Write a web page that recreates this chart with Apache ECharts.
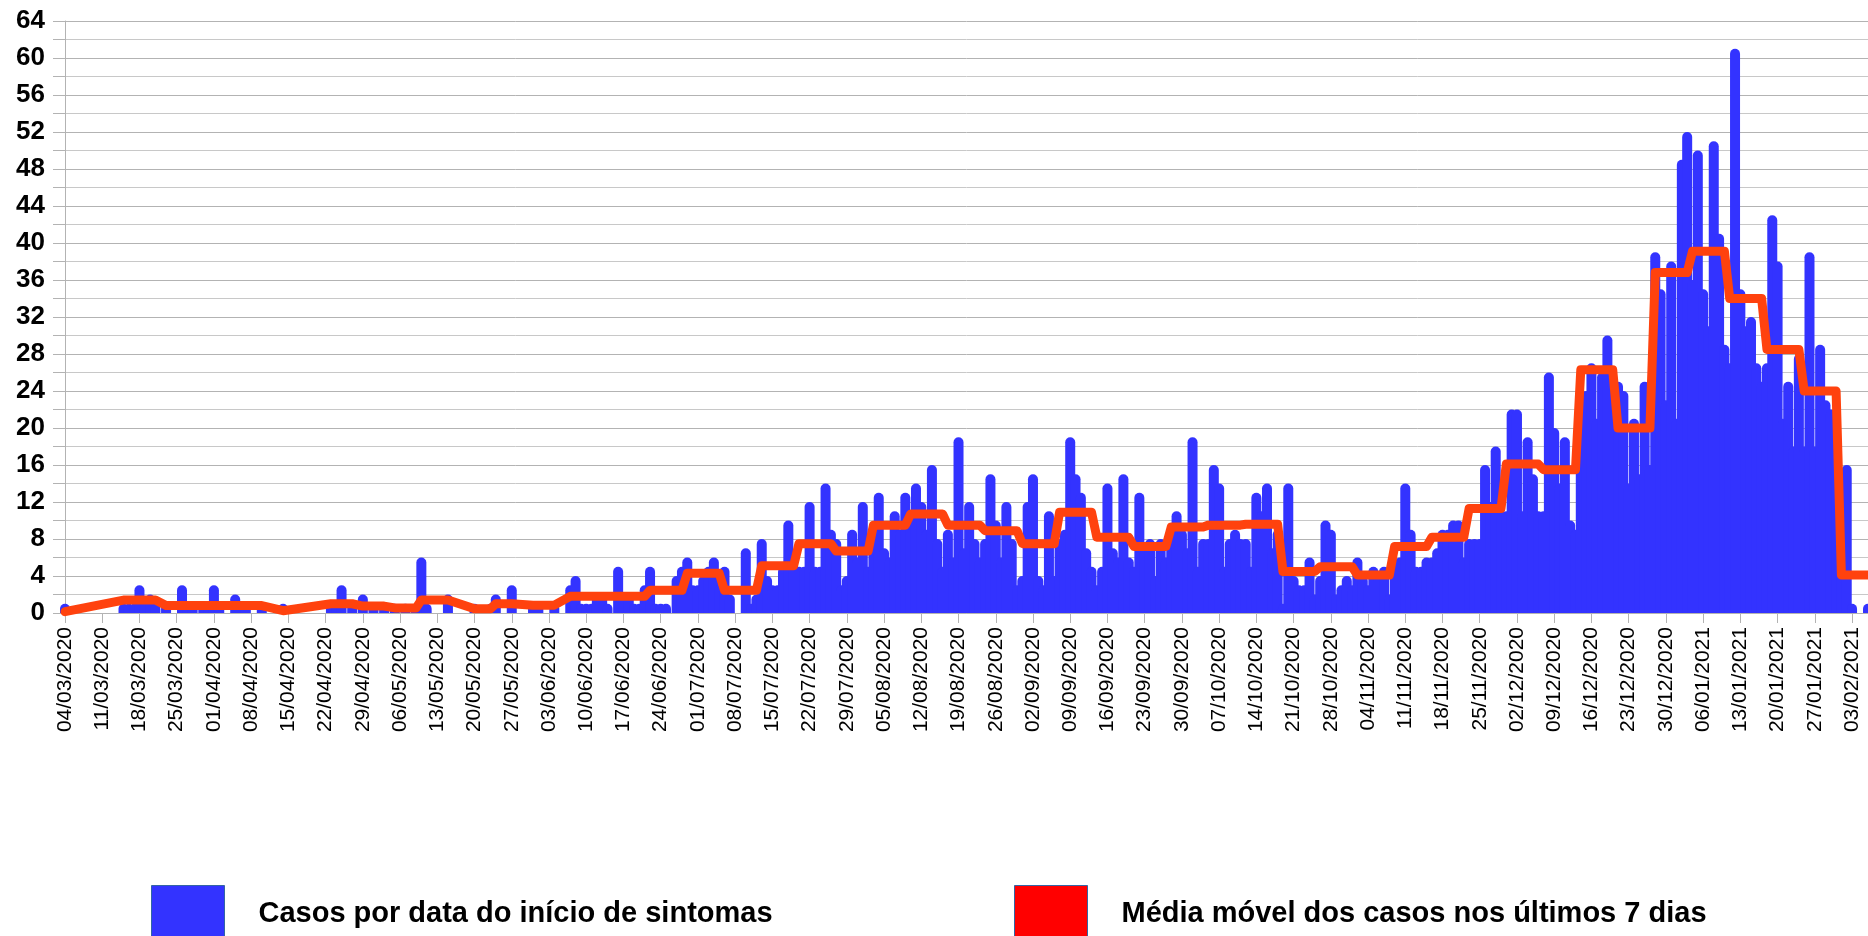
<!DOCTYPE html>
<html>
<head>
<meta charset="utf-8">
<script src="https://cdn.jsdelivr.net/npm/echarts@6/dist/echarts.min.js"></script>
<style>
html,body{margin:0;padding:0;background:#ffffff;}
#chart{width:1868px;height:936px;}
</style>
</head>
<body>
<div id="chart"></div>
<script>
// ---- data (one value per day, starting 04/03/2020) ----
const START_DATE = [2020, 2, 4];   // 04/03/2020 (month is 0-based)
const NUM_DAYS = 340;
const seriesNames = ['Casos por data do início de sintomas', 'Média móvel dos casos nos últimos 7 dias'];

const casos = [
  1,null,null,null,null,null,null,
  null,null,null,null,1,1,1,
  3,1,2,1,null,1,null,
  null,3,1,1,null,1,1,
  3,1,null,null,2,1,1,
  null,null,1,null,null,null,1,
  null,null,null,null,null,null,null,
  null,1,1,3,null,1,null,
  2,null,1,null,1,null,1,
  null,1,null,1,6,1,null,
  null,null,2,null,null,null,null,
  1,null,null,1,2,null,null,
  3,null,null,null,1,1,null,
  null,1,null,null,3,4,1,
  1,1,2,2,1,0,5,
  2,2,1,1,3,5,1,
  1,1,0,4,5,6,3,
  3,4,5,6,3,5,2,
  0,0,7,1,2,8,4,
  3,3,5,10,5,5,5,
  12,5,5,14,9,8,3,
  4,9,6,12,5,8,13,
  7,6,11,9,13,11,14,
  12,9,16,8,5,9,6,
  19,7,12,8,6,8,15,
  10,6,12,8,3,4,12,
  15,4,3,11,4,8,9,
  19,15,13,7,5,3,5,
  14,7,6,15,6,5,13,
  7,8,4,8,6,8,11,
  9,7,19,5,8,8,16,
  14,5,8,9,8,8,5,
  13,11,14,7,9,1,14,
  4,3,3,6,2,4,10,
  9,2,3,4,3,6,4,
  3,5,4,5,2,5,6,
  14,9,5,5,6,6,7,
  9,9,10,10,6,8,8,
  8,16,12,18,11,11,22,
  22,11,19,15,11,11,26,
  20,14,19,10,9,21,24,
  27,21,26,30,25,25,24,
  14,21,15,25,16,39,35,
  23,38,21,49,52,36,50,
  35,31,51,41,29,27,61,
  35,31,32,27,25,27,43,
  38,21,25,18,28,18,39,
  18,29,23,22,19,10,16,
  1,0,0,1
];

const mediaMovel = [
  0.14,null,null,null,null,null,null,
  null,null,null,null,1.4,1.4,1.4,
  1.4,1.4,1.4,1.4,null,0.8,null,
  null,0.8,0.8,0.8,null,0.8,0.8,
  0.8,0.8,null,null,0.8,0.8,0.8,
  null,null,0.8,null,null,null,0.25,
  null,null,null,null,null,null,null,
  null,1.0,1.0,1.0,null,1.0,null,
  0.75,null,0.75,null,0.75,null,0.55,
  null,0.55,null,0.55,1.4,1.4,null,
  null,null,1.4,null,null,null,null,
  0.45,null,null,0.45,1.0,null,null,
  1.0,null,null,null,0.85,0.85,null,
  null,0.85,null,null,1.8,1.8,1.8,
  1.8,1.8,1.8,1.8,1.8,1.8,1.8,
  1.8,1.8,1.8,1.8,1.8,2.45,2.45,
  2.45,2.45,2.45,2.45,2.45,4.3,4.3,
  4.3,4.3,4.3,4.3,4.3,2.45,2.45,
  2.45,2.45,2.45,2.45,2.45,5.1,5.1,
  5.1,5.1,5.1,5.1,5.1,7.5,7.5,
  7.5,7.5,7.5,7.5,7.5,6.7,6.7,
  6.7,6.7,6.7,6.7,6.7,9.5,9.5,
  9.5,9.5,9.5,9.5,9.5,10.7,10.7,
  10.7,10.7,10.7,10.7,10.7,9.5,9.5,
  9.5,9.5,9.5,9.5,9.5,8.9,8.9,
  8.9,8.9,8.9,8.9,8.9,7.5,7.5,
  7.5,7.5,7.5,7.5,7.5,10.9,10.9,
  10.9,10.9,10.9,10.9,10.9,8.2,8.2,
  8.2,8.2,8.2,8.2,8.2,7.2,7.2,
  7.2,7.2,7.2,7.2,7.2,9.3,9.3,
  9.3,9.3,9.3,9.3,9.3,9.5,9.5,
  9.5,9.5,9.5,9.5,9.5,9.6,9.6,
  9.6,9.6,9.6,9.6,9.6,4.5,4.5,
  4.5,4.5,4.5,4.5,4.5,5.0,5.0,
  5.0,5.0,5.0,5.0,5.0,4.1,4.1,
  4.1,4.1,4.1,4.1,4.1,7.2,7.2,
  7.2,7.2,7.2,7.2,7.2,8.2,8.2,
  8.2,8.2,8.2,8.2,8.2,11.3,11.3,
  11.3,11.3,11.3,11.3,11.3,16.1,16.1,
  16.1,16.1,16.1,16.1,16.1,15.5,15.5,
  15.5,15.5,15.5,15.5,15.5,26.3,26.3,
  26.3,26.3,26.3,26.3,26.3,20,20,
  20,20,20,20,20,36.8,36.8,
  36.8,36.8,36.8,36.8,36.8,39.1,39.1,
  39.1,39.1,39.1,39.1,39.1,34,34,
  34,34,34,34,34,28.5,28.5,
  28.5,28.5,28.5,28.5,28.5,24,24,
  24,24,24,24,24,4.1,4.1,
  4.1,4.1,4.1,4.1
];

const Y_MIN = 0, Y_MAX = 64, Y_STEP = 4;
const LABEL_EVERY = 7; // one date label per week

// ---- category labels (dates) ----
const datas = [];
for (let i = 0; i < NUM_DAYS; i++) {
  const d = new Date(Date.UTC(START_DATE[0], START_DATE[1], START_DATE[2] + i));
  const dd = String(d.getUTCDate()).padStart(2, '0');
  const mm = String(d.getUTCMonth() + 1).padStart(2, '0');
  datas.push(dd + '/' + mm + '/' + d.getUTCFullYear());
}

const FONT = "'Liberation Sans', Arial, sans-serif";
const GRID = '#b3b3b3';

const chart = echarts.init(document.getElementById('chart'), null, {renderer: 'canvas'});
chart.setOption({
  animation: false,
  backgroundColor: '#ffffff',
  grid: {left: 65, right: 0, top: 21, bottom: 323, containLabel: false},
  legend: [
    {
      data: [{name: seriesNames[0], itemStyle: {color: '#3333ff', borderColor: '#3465a4', borderWidth: 1}}],
      left: 146, top: 880, itemWidth: 73, itemHeight: 56, icon: 'rect',
      selectedMode: false,
      textStyle: {fontFamily: FONT, fontSize: 29, fontWeight: 'bold', color: '#000', padding: [0, 0, 0, 29]}
    },
    {
      data: [{name: seriesNames[1], itemStyle: {color: '#ff0000', borderColor: '#3465a4', borderWidth: 1}}],
      left: 1009, top: 880, itemWidth: 73, itemHeight: 56, icon: 'rect',
      selectedMode: false,
      textStyle: {fontFamily: FONT, fontSize: 29, fontWeight: 'bold', color: '#000', padding: [0, 0, 0, 29]}
    }
  ],
  xAxis: {
    type: 'category',
    data: datas,
    boundaryGap: false,
    axisLine: {show: true, lineStyle: {color: GRID, width: 1}},
    axisTick: {show: true, interval: LABEL_EVERY - 1, length: 10, lineStyle: {color: GRID}},
    axisLabel: {
      interval: LABEL_EVERY - 1, rotate: 90, margin: 14,
      fontFamily: FONT, fontSize: 21, color: '#000'
    },
    splitLine: {show: false}
  },
  yAxis: {
    type: 'value',
    min: Y_MIN, max: Y_MAX, interval: Y_STEP,
    axisLine: {show: true, lineStyle: {color: GRID, width: 1}},
    axisTick: {show: true, length: 12, lineStyle: {color: GRID}},
    minorTick: {show: true, splitNumber: 2, length: 12, lineStyle: {color: GRID}},
    axisLabel: {margin: 20, fontFamily: FONT, fontSize: 26, fontWeight: 'bold', color: '#000'},
    splitLine: {show: true, lineStyle: {color: GRID, width: 1}},
    minorSplitLine: {show: true, lineStyle: {color: '#c8c8c8', width: 1}}
  },
  series: [
    {
      name: seriesNames[0],
      type: 'bar',
      data: casos,
      barWidth: 10,
      clip: false,
      itemStyle: {color: '#3333ff', borderRadius: [5, 5, 0, 0]},
      z: 2
    },
    {
      name: seriesNames[1],
      type: 'line',
      data: mediaMovel,
      connectNulls: true,
      showSymbol: false,
      symbol: 'none',
      clip: false,
      lineStyle: {color: '#ff420e', width: 9, cap: 'round', join: 'round'},
      itemStyle: {color: '#ff420e'},
      z: 3
    }
  ]
});
</script>
</body>
</html>
